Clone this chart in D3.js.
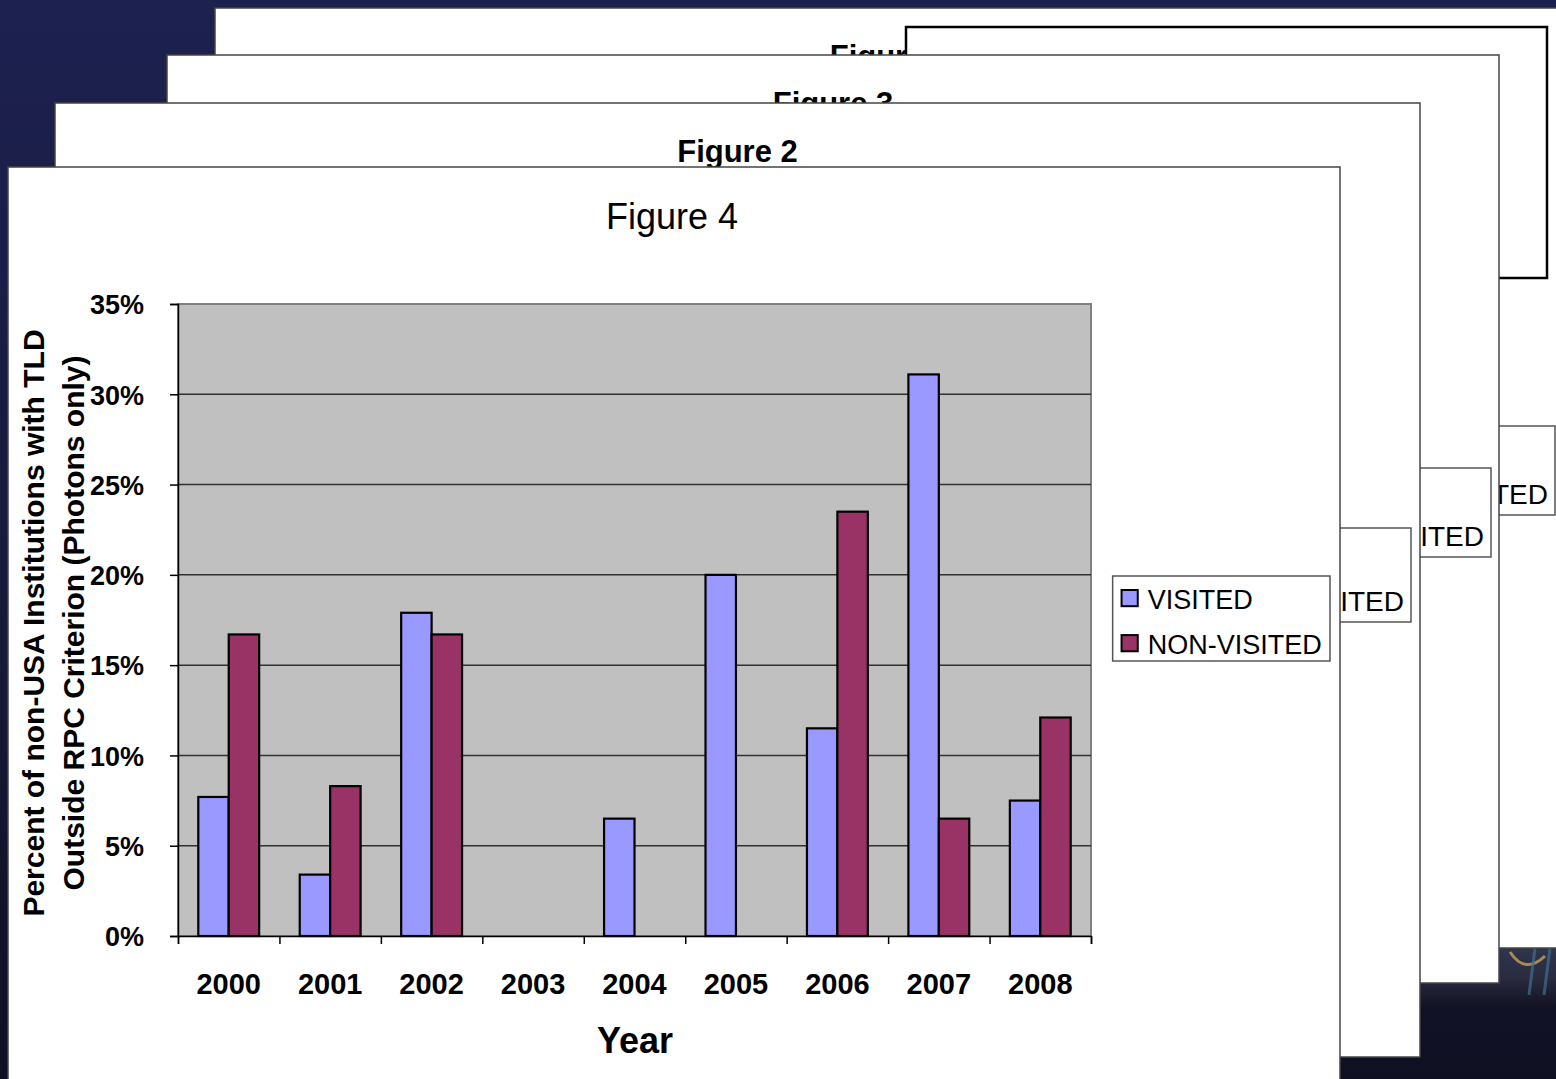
<!DOCTYPE html>
<html>
<head>
<meta charset="utf-8">
<script src="https://cdn.jsdelivr.net/npm/d3@7"></script>
<style>
  body { margin: 0; background: #15173a; }
  svg { display: block; font-family: "Liberation Sans", Arial, sans-serif; }
</style>
</head>
<body>
<script>
// chart data
var years = ["2000", "2001", "2002", "2003", "2004", "2005", "2006", "2007", "2008"];
var visited = [7.7, 3.4, 17.9, null, 6.5, 20.0, 11.5, 31.1, 7.5];
var nonVisited = [16.7, 8.3, 16.7, null, null, null, 23.5, 6.5, 12.1];
var seriesNames = ["VISITED", "NON-VISITED"];
var seriesColors = ["#9999ff", "#993366"];
var yTicks = [0, 5, 10, 15, 20, 25, 30, 35];

var w = 1556;
var h = 1079;

var svg = d3.select("body").append("svg").attr("width", w).attr("height", h);

// slide background
var defs = svg.append("defs");
var bg = defs.append("linearGradient").attr("id", "bg").attr("x1", 0).attr("y1", 0).attr("x2", 0).attr("y2", 1);
bg.append("stop").attr("offset", "0%").attr("stop-color", "#1d2150");
bg.append("stop").attr("offset", "60%").attr("stop-color", "#171938");
bg.append("stop").attr("offset", "100%").attr("stop-color", "#0f1022");
svg.append("rect").attr("width", w).attr("height", h).attr("fill", "url(#bg)");

// bit of the slide picture showing at bottom right
var pic = defs.append("linearGradient").attr("id", "pic").attr("x1", 0).attr("y1", 0).attr("x2", 0).attr("y2", 1);
pic.append("stop").attr("offset", "0%").attr("stop-color", "#2f3850");
pic.append("stop").attr("offset", "55%").attr("stop-color", "#2a2a40");
pic.append("stop").attr("offset", "100%").attr("stop-color", "#0f1020");
svg.append("rect").attr("x", 1340).attr("y", 940).attr("width", 216).attr("height", 70).attr("fill", "url(#pic)");
svg.append("path")
  .attr("d", "M1510,952 Q1525,975 1545,956")
  .attr("fill", "none").attr("stroke", "#c9a050").attr("stroke-width", 3).attr("opacity", 0.8);
[1535, 1550].forEach(function (x) {
  svg.append("line").attr("x1", x).attr("x2", x - 6).attr("y1", 948).attr("y2", 995)
    .attr("stroke", "#3d6f8f").attr("stroke-width", 3).attr("opacity", 0.7);
});

// full legend box (front window)
function legend(g, right, top, bottom, fs) {
  var lw = 8.05 * fs;
  var left = right - lw;
  g.append("rect")
    .attr("x", left).attr("y", top).attr("width", lw).attr("height", bottom - top)
    .attr("fill", "white").attr("stroke", "#555").attr("stroke-width", 1.5);
  var base = [bottom - 1.93 * fs, bottom - 0.26 * fs];
  seriesNames.forEach(function (name, i) {
    g.append("rect")
      .attr("x", left + 0.33 * fs).attr("y", base[i] - 0.7 * fs)
      .attr("width", 0.6 * fs).attr("height", 0.6 * fs)
      .attr("fill", seriesColors[i]).attr("stroke", "black").attr("stroke-width", 2);
    g.append("text")
      .attr("x", left + 1.3 * fs).attr("y", base[i])
      .attr("font-size", fs).attr("fill", "black")
      .text(name);
  });
}

// legend of a window behind: only its right end shows past the next window
function backLegend(g, right, top, bottom, tail) {
  g.append("rect")
    .attr("x", right - 225).attr("y", top).attr("width", 225).attr("height", bottom - top)
    .attr("fill", "white").attr("stroke", "#555").attr("stroke-width", 1.5);
  g.append("text")
    .attr("x", right - 7).attr("y", bottom - 11)
    .attr("text-anchor", "end").attr("font-size", 28).attr("fill", "black")
    .text(tail);
}

function panel(x, y, pw, ph, title) {
  var g = svg.append("g");
  g.append("rect")
    .attr("x", x).attr("y", y).attr("width", pw).attr("height", ph)
    .attr("fill", "white").attr("stroke", "#454545").attr("stroke-width", 1.5);
  g.append("text")
    .attr("x", x + pw / 2).attr("y", y + 59)
    .attr("text-anchor", "middle").attr("font-weight", "bold").attr("font-size", 31)
    .text(title);
  return g;
}

// back windows, back to front
var p1 = panel(215, 8, 1350, 940, "Figure 1");
backLegend(p1, 1555, 426, 515, "TED");
svg.append("rect")
  .attr("x", 906).attr("y", 27).attr("width", 641).attr("height", 251)
  .attr("fill", "white").attr("stroke", "black").attr("stroke-width", 2.5);

var p3 = panel(167, 55, 1332, 928, "Figure 3");
backLegend(p3, 1491, 468, 557, "ITED");

var p2 = panel(55, 103, 1365, 954, "Figure 2");
backLegend(p2, 1411, 528, 622, "ITED");

// front window: Figure 4
var f4 = svg.append("g");
f4.append("rect")
  .attr("x", 8).attr("y", 167).attr("width", 1332).attr("height", 1000)
  .attr("fill", "white").attr("stroke", "#454545").attr("stroke-width", 1.5);
f4.append("text")
  .attr("x", 672).attr("y", 229)
  .attr("text-anchor", "middle").attr("font-size", 36)
  .text("Figure 4");

var plot = { left: 178, right: 1091, top: 304, bottom: 936 };

var y = d3.scaleLinear().domain([0, 35]).range([plot.bottom, plot.top]);
var x0 = d3.scaleBand().domain(years).range([plot.left, plot.right]).padding(0);
var x1 = d3.scaleBand().domain(seriesNames)
  .range([x0.bandwidth() * 0.2, x0.bandwidth() * 0.8]).padding(0);
var xEdge = d3.scaleLinear().domain([0, years.length]).range([plot.left, plot.right]);

f4.append("rect")
  .attr("x", plot.left).attr("y", plot.top)
  .attr("width", plot.right - plot.left).attr("height", plot.bottom - plot.top)
  .attr("fill", "#c0c0c0").attr("stroke", "#808080").attr("stroke-width", 2);

// gridlines
f4.selectAll(".grid")
  .data(yTicks.filter(function (d) { return d > 0 && d < 35; }))
  .enter()
  .append("line")
  .attr("x1", plot.left).attr("x2", plot.right)
  .attr("y1", function (d) { return y(d); })
  .attr("y2", function (d) { return y(d); })
  .attr("stroke", "#303030").attr("stroke-width", 1.5);

// bars
var bars = [];
years.forEach(function (yr, i) {
  bars.push({ year: yr, s: 0, v: visited[i] });
  bars.push({ year: yr, s: 1, v: nonVisited[i] });
});
f4.selectAll(".bar")
  .data(bars.filter(function (d) { return d.v != null; }))
  .enter()
  .append("rect")
  .attr("x", function (d) { return x0(d.year) + x1(seriesNames[d.s]); })
  .attr("y", function (d) { return y(d.v); })
  .attr("width", x1.bandwidth())
  .attr("height", function (d) { return y(0) - y(d.v); })
  .style("fill", function (d) { return seriesColors[d.s]; })
  .style("stroke", "black")
  .style("stroke-width", 2.2);

// y axis
var yAxis = f4.append("g")
  .attr("transform", "translate(" + plot.left + ",0)")
  .call(d3.axisLeft(y).tickValues(yTicks).tickSize(8).tickPadding(26)
    .tickFormat(function (d) { return d + "%"; }));
yAxis.select(".domain").attr("stroke", "black").attr("stroke-width", 1.5);
yAxis.selectAll(".tick line").attr("stroke", "black").attr("stroke-width", 1.5);
yAxis.selectAll("text")
  .attr("font-family", "Liberation Sans, Arial, sans-serif")
  .attr("font-size", 27).attr("font-weight", "bold").attr("fill", "black")
  .attr("dy", "0.36em");

// x axis: ticks on category edges
var xAxis = f4.append("g")
  .attr("transform", "translate(0," + plot.bottom + ")")
  .call(d3.axisBottom(xEdge).tickValues(d3.range(years.length + 1)).tickSize(8).tickFormat(""));
xAxis.select(".domain").attr("stroke", "black").attr("stroke-width", 1.5);
xAxis.selectAll(".tick line").attr("stroke", "black").attr("stroke-width", 1.5);

f4.selectAll(".xlab")
  .data(years)
  .enter()
  .append("text")
  .attr("x", function (d) { return x0(d) + x0.bandwidth() / 2; })
  .attr("y", 994)
  .attr("text-anchor", "middle")
  .attr("font-size", 29).attr("font-weight", "bold")
  .text(function (d) { return d; });

// axis titles
f4.append("text")
  .attr("x", 635).attr("y", 1053)
  .attr("text-anchor", "middle").attr("font-size", 36).attr("font-weight", "bold")
  .text("Year");

var yTitle = f4.append("text")
  .attr("transform", "translate(0,623) rotate(-90)")
  .attr("text-anchor", "middle").attr("font-size", 30).attr("font-weight", "bold");
yTitle.append("tspan").attr("x", 0).attr("y", 44).text("Percent of non-USA Institutions with TLD");
yTitle.append("tspan").attr("x", 0).attr("y", 84).text("Outside RPC Criterion (Photons only)");

legend(f4, 1330, 576, 661, 27);
</script>
</body>
</html>
